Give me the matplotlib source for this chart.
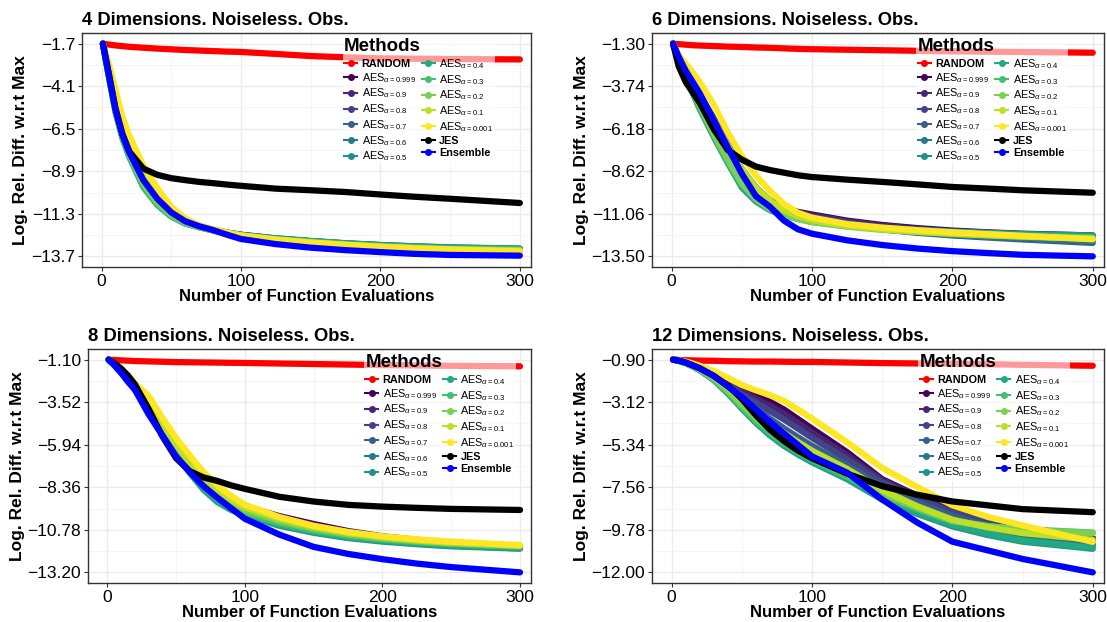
import matplotlib.pyplot as plt
from matplotlib.lines import Line2D

plt.rcParams['font.family'] = ['Liberation Sans', 'DejaVu Sans']
plt.rcParams['mathtext.fontset'] = 'custom'
plt.rcParams['mathtext.rm'] = 'Liberation Sans'
plt.rcParams['mathtext.it'] = 'Liberation Sans:italic'

# ---------------------------------------------------------------
# Data (at a subset of evaluations)
# ---------------------------------------------------------------
X = [1, 5, 10, 15, 20, 30, 40, 50, 60, 70, 80, 90, 100, 125, 150, 175, 200, 225, 250, 300]

aes_alphas = ['0.999', '0.9', '0.8', '0.7', '0.6', '0.5', '0.4', '0.3', '0.2', '0.1', '0.001']

# 4 dimensions
yticks4 = [-1.7, -4.1, -6.5, -8.9, -11.3, -13.7]
random4 = [-1.70, -1.75, -1.80, -1.84, -1.88, -1.93, -1.98, -2.02, -2.06, -2.09, -2.12, -2.15, -2.17, -2.28, -2.40, -2.47, -2.53, -2.55, -2.57, -2.59]
jes4 = [-1.70, -3.30, -5.35, -6.80, -7.80, -8.75, -9.10, -9.29, -9.40, -9.50, -9.57, -9.65, -9.72, -9.88, -9.97, -10.07, -10.21, -10.34, -10.45, -10.69]
ens4 = [-1.70, -3.35, -5.40, -6.85, -7.85, -9.40, -10.45, -11.22, -11.72, -12.00, -12.22, -12.48, -12.72, -13.01, -13.21, -13.35, -13.46, -13.56, -13.62, -13.66]
aes4_999 = [-1.70, -3.30, -5.25, -6.70, -7.75, -9.45, -10.55, -11.28, -11.72, -12.00, -12.20, -12.36, -12.50, -12.72, -12.88, -13.01, -13.12, -13.21, -13.27, -13.36]
aes4_900 = [-1.70, -3.32, -5.28, -6.74, -7.80, -9.50, -10.60, -11.32, -11.75, -12.02, -12.21, -12.37, -12.50, -12.72, -12.88, -13.00, -13.11, -13.20, -13.26, -13.34]
aes4_800 = [-1.70, -3.35, -5.32, -6.78, -7.85, -9.55, -10.64, -11.35, -11.77, -12.03, -12.22, -12.37, -12.50, -12.71, -12.87, -12.99, -13.10, -13.18, -13.24, -13.32]
aes4_700 = [-1.70, -3.38, -5.36, -6.83, -7.90, -9.60, -10.68, -11.38, -11.79, -12.04, -12.22, -12.37, -12.49, -12.70, -12.86, -12.98, -13.08, -13.16, -13.22, -13.30]
aes4_600 = [-1.70, -3.42, -5.42, -6.90, -7.98, -9.68, -10.73, -11.41, -11.81, -12.04, -12.21, -12.36, -12.48, -12.69, -12.84, -12.96, -13.06, -13.14, -13.20, -13.27]
aes4_500 = [-1.70, -3.45, -5.50, -6.98, -8.05, -9.75, -10.78, -11.44, -11.83, -12.05, -12.21, -12.36, -12.48, -12.68, -12.83, -12.96, -13.06, -13.13, -13.19, -13.26]
aes4_400 = [-1.70, -3.45, -5.55, -7.05, -8.10, -9.80, -10.80, -11.45, -11.85, -12.05, -12.22, -12.38, -12.50, -12.70, -12.84, -12.97, -13.08, -13.16, -13.22, -13.28]
aes4_300 = [-1.70, -3.42, -5.50, -7.00, -8.06, -9.76, -10.77, -11.43, -11.84, -12.06, -12.24, -12.40, -12.52, -12.73, -12.88, -13.01, -13.12, -13.20, -13.26, -13.32]
aes4_200 = [-1.70, -3.35, -5.35, -6.82, -7.90, -9.60, -10.66, -11.37, -11.80, -12.05, -12.24, -12.41, -12.54, -12.76, -12.91, -13.04, -13.15, -13.23, -13.29, -13.35]
aes4_100 = [-1.70, -3.10, -4.95, -6.45, -7.55, -9.25, -10.40, -11.20, -11.70, -12.00, -12.21, -12.39, -12.53, -12.76, -12.92, -13.05, -13.16, -13.25, -13.31, -13.38]
aes4_001 = [-1.70, -2.75, -4.30, -5.85, -6.90, -8.60, -9.85, -10.90, -11.55, -11.95, -12.15, -12.35, -12.52, -12.75, -12.92, -13.05, -13.16, -13.25, -13.32, -13.42]

# 6 dimensions
yticks6 = [-1.30, -3.74, -6.18, -8.62, -11.06, -13.50]
random6 = [-1.30, -1.33, -1.36, -1.39, -1.41, -1.44, -1.47, -1.49, -1.52, -1.54, -1.57, -1.60, -1.62, -1.65, -1.68, -1.71, -1.74, -1.76, -1.78, -1.82]
jes6 = [-1.30, -2.60, -3.50, -4.10, -4.70, -6.20, -7.40, -7.95, -8.35, -8.55, -8.70, -8.85, -8.95, -9.10, -9.23, -9.37, -9.52, -9.61, -9.71, -9.85]
ens6 = [-1.30, -2.05, -2.85, -3.50, -4.15, -5.70, -7.25, -8.76, -10.05, -10.65, -11.45, -11.95, -12.20, -12.58, -12.85, -13.05, -13.20, -13.31, -13.41, -13.50]
aes6_999 = [-1.30, -2.15, -2.90, -3.60, -4.25, -5.60, -7.10, -8.50, -9.55, -10.30, -10.70, -10.95, -11.10, -11.45, -11.70, -11.88, -12.02, -12.12, -12.20, -12.30]
aes6_900 = [-1.30, -2.15, -2.92, -3.65, -4.30, -5.68, -7.20, -8.60, -9.62, -10.35, -10.75, -11.00, -11.15, -11.50, -11.74, -11.92, -12.06, -12.16, -12.24, -12.35]
aes6_800 = [-1.30, -2.18, -2.95, -3.70, -4.38, -5.78, -7.32, -8.72, -9.72, -10.42, -10.82, -11.08, -11.24, -11.58, -11.82, -12.00, -12.14, -12.25, -12.34, -12.48]
aes6_700 = [-1.30, -2.20, -3.00, -3.78, -4.48, -5.90, -7.45, -8.85, -9.85, -10.52, -10.92, -11.18, -11.35, -11.70, -11.95, -12.15, -12.30, -12.42, -12.53, -12.73]
aes6_600 = [-1.30, -2.25, -3.08, -3.90, -4.65, -6.15, -7.70, -9.10, -10.05, -10.65, -11.00, -11.24, -11.40, -11.72, -11.95, -12.12, -12.26, -12.37, -12.46, -12.62]
aes6_500 = [-1.30, -2.30, -3.20, -4.10, -5.00, -6.60, -8.10, -9.55, -10.35, -10.85, -11.15, -11.35, -11.50, -11.72, -11.88, -11.98, -12.08, -12.15, -12.22, -12.30]
aes6_400 = [-1.30, -2.30, -3.22, -4.12, -5.05, -6.65, -8.15, -9.50, -10.30, -10.82, -11.13, -11.34, -11.50, -11.74, -11.90, -12.01, -12.11, -12.19, -12.26, -12.35]
aes6_300 = [-1.30, -2.28, -3.18, -4.05, -4.95, -6.55, -8.05, -9.40, -10.25, -10.80, -11.12, -11.35, -11.52, -11.77, -11.94, -12.06, -12.17, -12.25, -12.32, -12.42]
aes6_200 = [-1.30, -2.25, -3.12, -3.98, -4.85, -6.45, -7.95, -9.30, -10.20, -10.78, -11.12, -11.36, -11.54, -11.80, -11.98, -12.10, -12.21, -12.29, -12.36, -12.46]
aes6_100 = [-1.30, -2.12, -2.90, -3.65, -4.35, -5.70, -7.15, -8.50, -9.55, -10.30, -10.85, -11.20, -11.42, -11.75, -11.95, -12.09, -12.20, -12.29, -12.37, -12.48]
aes6_001 = [-1.30, -1.95, -2.45, -2.95, -3.50, -4.80, -6.40, -7.75, -8.85, -9.75, -10.50, -11.00, -11.28, -11.65, -11.85, -12.00, -12.12, -12.22, -12.32, -12.52]

# 8 dimensions
yticks8 = [-1.10, -3.52, -5.94, -8.36, -10.78, -13.20]
random8 = [-1.10, -1.12, -1.14, -1.16, -1.18, -1.20, -1.22, -1.24, -1.25, -1.26, -1.27, -1.28, -1.29, -1.32, -1.35, -1.38, -1.41, -1.43, -1.45, -1.48]
jes8 = [-1.10, -1.30, -1.60, -2.00, -2.50, -3.90, -5.45, -6.70, -7.45, -7.80, -8.00, -8.25, -8.45, -8.90, -9.17, -9.36, -9.46, -9.53, -9.59, -9.65]
ens8 = [-1.10, -1.40, -1.85, -2.35, -2.80, -4.20, -5.40, -6.60, -7.50, -8.30, -8.95, -9.55, -10.15, -11.05, -11.75, -12.15, -12.45, -12.70, -12.90, -13.20]
aes8_999 = [-1.10, -1.38, -1.75, -2.15, -2.60, -3.60, -4.85, -5.95, -6.95, -7.80, -8.50, -9.05, -9.45, -10.00, -10.45, -10.85, -11.15, -11.35, -11.50, -11.72]
aes8_900 = [-1.10, -1.38, -1.76, -2.18, -2.63, -3.65, -4.90, -6.00, -7.00, -7.85, -8.55, -9.10, -9.50, -10.08, -10.52, -10.90, -11.18, -11.38, -11.53, -11.75]
aes8_800 = [-1.10, -1.39, -1.78, -2.20, -2.66, -3.70, -4.95, -6.08, -7.08, -7.92, -8.62, -9.16, -9.56, -10.15, -10.60, -10.95, -11.22, -11.41, -11.56, -11.78]
aes8_700 = [-1.10, -1.40, -1.80, -2.24, -2.70, -3.78, -5.02, -6.18, -7.20, -8.05, -8.75, -9.28, -9.66, -10.25, -10.68, -11.02, -11.28, -11.46, -11.60, -11.80]
aes8_600 = [-1.10, -1.40, -1.80, -2.28, -2.76, -3.85, -5.10, -6.35, -7.42, -8.35, -9.05, -9.55, -9.88, -10.45, -10.85, -11.17, -11.40, -11.56, -11.68, -11.84]
aes8_500 = [-1.10, -1.40, -1.80, -2.30, -2.80, -3.90, -5.15, -6.45, -7.55, -8.50, -9.20, -9.65, -9.95, -10.55, -10.95, -11.25, -11.45, -11.60, -11.72, -11.85]
aes8_400 = [-1.10, -1.40, -1.80, -2.30, -2.80, -3.88, -5.12, -6.40, -7.50, -8.45, -9.15, -9.60, -9.90, -10.50, -10.90, -11.20, -11.40, -11.55, -11.66, -11.80]
aes8_300 = [-1.10, -1.40, -1.79, -2.28, -2.77, -3.84, -5.06, -6.30, -7.38, -8.30, -9.00, -9.48, -9.80, -10.40, -10.82, -11.12, -11.33, -11.48, -11.60, -11.74]
aes8_200 = [-1.10, -1.39, -1.78, -2.25, -2.72, -3.76, -4.95, -6.15, -7.20, -8.10, -8.80, -9.30, -9.65, -10.28, -10.72, -11.04, -11.26, -11.42, -11.54, -11.70]
aes8_100 = [-1.10, -1.37, -1.75, -2.18, -2.62, -3.55, -4.72, -5.90, -6.92, -7.80, -8.52, -9.08, -9.50, -10.15, -10.62, -10.96, -11.20, -11.38, -11.51, -11.68]
aes8_001 = [-1.10, -1.35, -1.70, -2.05, -2.45, -3.16, -4.40, -5.55, -6.55, -7.50, -8.25, -8.85, -9.35, -10.05, -10.55, -10.90, -11.15, -11.32, -11.45, -11.65]

# 12 dimensions
yticks12 = [-0.90, -3.12, -5.34, -7.56, -9.78, -12.00]
random12 = [-0.90, -0.92, -0.93, -0.94, -0.95, -0.96, -0.98, -0.99, -1.00, -1.00, -1.01, -1.02, -1.02, -1.05, -1.08, -1.10, -1.11, -1.14, -1.17, -1.22]
jes12 = [-0.90, -0.95, -1.05, -1.20, -1.35, -1.75, -2.25, -2.95, -3.80, -4.55, -5.15, -5.65, -6.05, -6.85, -7.50, -7.95, -8.30, -8.50, -8.70, -8.86]
ens12 = [-0.90, -0.95, -1.05, -1.20, -1.35, -1.75, -2.30, -2.85, -3.50, -4.15, -4.75, -5.35, -5.95, -6.80, -8.20, -9.40, -10.40, -10.85, -11.30, -12.00]
aes12_999 = [-0.90, -0.93, -1.02, -1.15, -1.30, -1.65, -2.05, -2.48, -2.80, -3.10, -3.50, -4.00, -4.50, -5.73, -7.14, -8.00, -8.75, -9.25, -9.65, -10.20]
aes12_900 = [-0.90, -0.94, -1.03, -1.17, -1.33, -1.70, -2.12, -2.58, -2.95, -3.30, -3.72, -4.20, -4.70, -5.90, -7.20, -8.05, -8.80, -9.30, -9.72, -10.28]
aes12_800 = [-0.90, -0.94, -1.04, -1.19, -1.36, -1.76, -2.22, -2.72, -3.15, -3.58, -4.02, -4.50, -4.98, -6.10, -7.30, -8.15, -8.88, -9.40, -9.82, -10.35]
aes12_700 = [-0.90, -0.95, -1.06, -1.22, -1.40, -1.84, -2.36, -2.92, -3.45, -3.98, -4.48, -4.95, -5.40, -6.40, -7.50, -8.35, -9.05, -9.58, -10.00, -10.50]
aes12_600 = [-0.90, -0.96, -1.07, -1.24, -1.43, -1.92, -2.55, -3.25, -3.95, -4.62, -5.20, -5.70, -6.15, -7.05, -8.05, -8.80, -9.45, -9.92, -10.25, -10.62]
aes12_500 = [-0.90, -0.96, -1.08, -1.25, -1.45, -1.95, -2.65, -3.45, -4.20, -4.85, -5.40, -5.85, -6.26, -7.14, -8.20, -8.95, -9.60, -10.05, -10.40, -10.77]
aes12_400 = [-0.90, -0.96, -1.08, -1.25, -1.45, -1.96, -2.66, -3.44, -4.18, -4.82, -5.36, -5.82, -6.22, -7.10, -8.12, -8.88, -9.52, -9.98, -10.34, -10.72]
aes12_300 = [-0.90, -0.96, -1.08, -1.25, -1.44, -1.93, -2.60, -3.38, -4.10, -4.72, -5.25, -5.72, -6.12, -7.00, -8.00, -8.70, -9.35, -9.60, -9.75, -9.92]
aes12_200 = [-0.90, -0.95, -1.07, -1.23, -1.42, -1.88, -2.52, -3.25, -3.95, -4.55, -5.08, -5.55, -5.98, -6.88, -7.88, -8.62, -9.30, -9.58, -9.78, -9.96]
aes12_100 = [-0.90, -0.95, -1.05, -1.20, -1.37, -1.80, -2.35, -3.00, -3.62, -4.20, -4.72, -5.20, -5.65, -6.60, -7.70, -8.55, -9.25, -9.65, -9.95, -10.30]
aes12_001 = [-0.90, -0.93, -1.00, -1.10, -1.22, -1.50, -1.85, -2.22, -2.50, -2.75, -3.05, -3.50, -3.98, -5.21, -6.55, -7.55, -8.50, -9.10, -9.55, -10.41]

# ---------------------------------------------------------------
# Layout
# ---------------------------------------------------------------
W, H = 1107, 622
fig = plt.figure(figsize=(W / 100, H / 100), dpi=100)


def px_rect(l, t, r, b):
    return [l / W, 1 - b / H, (r - l) / W, (b - t) / H]


panels = [
    dict(title='4 Dimensions. Noiseless. Obs.', rect=(82, 33, 531, 267), yticks=yticks4, dec=1,
         random=random4, jes=jes4, ens=ens4, leg_x=0.578,
         aes=[aes4_999, aes4_900, aes4_800, aes4_700, aes4_600, aes4_500, aes4_400,
              aes4_300, aes4_200, aes4_100, aes4_001]),
    dict(title='6 Dimensions. Noiseless. Obs.', rect=(652, 33, 1104, 267), yticks=yticks6, dec=2,
         random=random6, jes=jes6, ens=ens6, leg_x=0.582,
         aes=[aes6_999, aes6_900, aes6_800, aes6_700, aes6_600, aes6_500, aes6_400,
              aes6_300, aes6_200, aes6_100, aes6_001]),
    dict(title='8 Dimensions. Noiseless. Obs.', rect=(88, 349, 531, 583), yticks=yticks8, dec=2,
         random=random8, jes=jes8, ens=ens8, leg_x=0.62,
         aes=[aes8_999, aes8_900, aes8_800, aes8_700, aes8_600, aes8_500, aes8_400,
              aes8_300, aes8_200, aes8_100, aes8_001]),
    dict(title='12 Dimensions. Noiseless. Obs.', rect=(652, 349, 1104, 583), yticks=yticks12, dec=2,
         random=random12, jes=jes12, ens=ens12, leg_x=0.586,
         aes=[aes12_999, aes12_900, aes12_800, aes12_700, aes12_600, aes12_500, aes12_400,
              aes12_300, aes12_200, aes12_100, aes12_001]),
]

aes_colors = [plt.cm.viridis(i / 10) for i in range(11)]
LW = 4.5

labels = ['RANDOM'] + [r'AES$_{\alpha=%s}$' % a for a in aes_alphas] + ['JES', 'Ensemble']
colors = ['#FF0000'] + aes_colors + ['black', '#0000FF']
handles = [Line2D([0], [0], color=c, lw=1.5, marker='o', markersize=4) for c in colors]

for p in panels:
    ax = fig.add_axes(px_rect(*p['rect']))
    kw = dict(lw=LW, solid_capstyle='round', solid_joinstyle='round')
    ax.plot(X, p['random'], color='#FF0000', **kw)
    for vals, c in zip(p['aes'], aes_colors):
        ax.plot(X, vals, color=c, **kw)
    ax.plot(X, p['jes'], color='black', **kw)
    ax.plot(X, p['ens'], color='#0000FF', **kw)

    yt = p['yticks']
    span = yt[0] - yt[-1]
    ax.set_ylim(yt[-1] - 0.05 * span, yt[0] + 0.05 * span)
    ax.set_yticks(yt)
    ax.set_yticklabels([(('%.' + str(p['dec']) + 'f') % v).replace('-', '\u2212') for v in yt])
    ax.set_yticks([(a + b) / 2 for a, b in zip(yt[:-1], yt[1:])], minor=True)
    ax.set_xlim(-14, 308)
    ax.set_xticks([0, 100, 200, 300])
    ax.set_xticks([50, 150, 250], minor=True)

    ax.grid(True, which='major', color='#EBEBEB', lw=1.0)
    ax.grid(True, which='minor', color='#F2F2F2', lw=0.6)
    ax.set_axisbelow(True)
    for s in ax.spines.values():
        s.set_color('#333333')
        s.set_linewidth(1.0)
    ax.tick_params(which='major', length=3, width=0.8, color='#333333', labelsize=12.5,
                   labelcolor='black', pad=2)
    ax.tick_params(which='minor', length=0)

    ax.set_title(p['title'], loc='left', fontsize=13.2, fontweight='bold', pad=6)
    ax.set_xlabel('Number of Function Evaluations', fontsize=12, fontweight='bold', labelpad=0)
    ax.set_ylabel('Log. Rel. Diff. w.r.t Max', fontsize=12.5, fontweight='bold', labelpad=2)

    leg = ax.legend(handles, labels, ncol=2, loc='upper left', bbox_to_anchor=(p['leg_x'], 0.99),
                    fontsize=7.8, title='Methods', title_fontproperties={'weight': 'bold', 'size': 13.5},
                    alignment='left', frameon=True, framealpha=0.6, facecolor='white',
                    edgecolor='none', fancybox=False, handlelength=1.2, handletextpad=0.4,
                    columnspacing=0.6, labelspacing=0.18, borderpad=0.15, borderaxespad=0.1)
    for t in leg.get_texts():
        if t.get_text() in ('RANDOM', 'JES', 'Ensemble'):
            t.set_fontweight('bold')

fig.savefig('out.png', dpi=100)
